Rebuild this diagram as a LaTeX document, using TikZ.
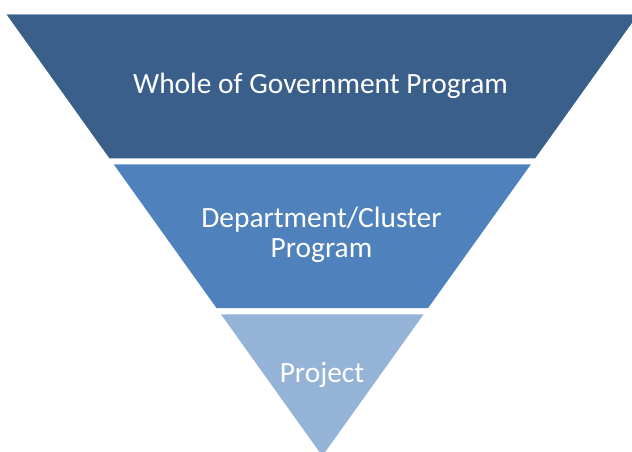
\documentclass[tikz,border=0pt]{standalone}
\usepackage{fontspec}
\setmainfont{Carlito}
\definecolor{bandtop}{HTML}{3A5F8B}
\definecolor{bandmid}{HTML}{4F81BD}
\definecolor{bandlow}{HTML}{95B3D7}
\definecolor{topedge}{HTML}{8EA2BE}
\begin{document}
\begin{tikzpicture}[x=1pt,y=-1pt,
  bandlabel/.style={text=white,font=\fontsize{29.4}{30.6}\selectfont,inner sep=0pt,anchor=base}]
\useasboundingbox (0,0) rectangle (632,451);
\clip (0,0) rectangle (632,451);
% geometry: centre x = 322.3, apex y = 456, slope 0.715
\coordinate (t1l) at (6.5,14.3);   \coordinate (t1r) at (638.1,14.3);
\coordinate (b1l) at (109.4,158.3); \coordinate (b1r) at (535.2,158.3);
\coordinate (t2l) at (113.7,164.3); \coordinate (t2r) at (530.9,164.3);
\coordinate (b2l) at (216.5,308);   \coordinate (b2r) at (428.1,308);
\coordinate (t3l) at (221,314.3);   \coordinate (t3r) at (423.6,314.3);
\coordinate (apex) at (322.3,456);
\fill[bandtop] (t1l) -- (t1r) -- (b1r) -- (b1l) -- cycle;
\draw[topedge,line width=0.9pt] (t1l) -- (t1r);
\fill[bandmid] (t2l) -- (t2r) -- (b2r) -- (b2l) -- cycle;
\fill[bandlow] (t3l) -- (t3r) -- (apex) -- cycle;
\node[bandlabel] (whole) at (320.5,93.8) {Whole of Government Program};
\node[bandlabel] (dept) at (321.5,227) {Department/Cluster};
\node[bandlabel] (deptprog) at (321.5,257.6) {Program};
\node[bandlabel] (proj) at (322,382.6) {Project};
\end{tikzpicture}
\end{document}
